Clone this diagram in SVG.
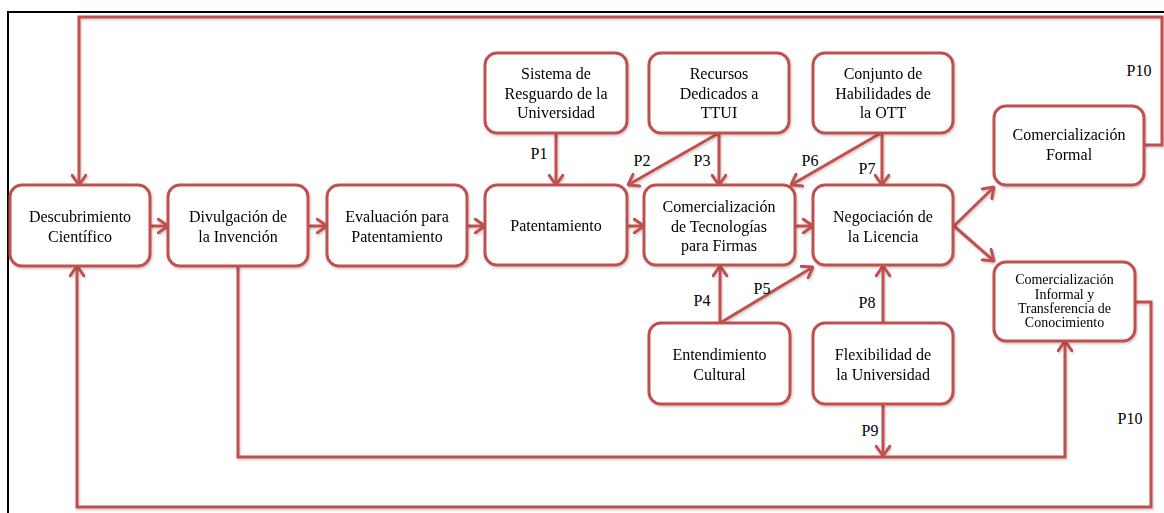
<svg xmlns="http://www.w3.org/2000/svg" width="1164" height="513" viewBox="0 0 1164 513">
  <defs>
    <style>
      .box { fill: #ffffff; stroke: #c0504d; stroke-width: 3; }
      .link { fill: none; stroke: #c0504d; stroke-width: 3; stroke-linejoin: miter; }
      .arr { marker-end: url(#head); }
      text { font-family: "Liberation Serif", "Times New Roman", serif; font-size: 16px; fill: #000000; text-anchor: middle; }
      .small { font-size: 14px; }
    </style>
    <marker id="head" viewBox="0 0 12 16" refX="11" refY="8" markerWidth="12" markerHeight="16" markerUnits="userSpaceOnUse" orient="auto">
      <path d="M1,1 L11,8 L1,15" fill="none" stroke="#c0504d" stroke-width="3" stroke-linecap="round" stroke-linejoin="round"/>
    </marker>
    <filter id="shade" x="-5%" y="-5%" width="110%" height="115%">
      <feDropShadow dx="1" dy="1.5" stdDeviation="1" flood-color="#000" flood-opacity="0.22"/>
    </filter>
  </defs>

  <rect width="1164" height="513" fill="#ffffff"/>
  <!-- outer frame -->
  <path d="M8,513 V12 H1164" fill="none" stroke="#000" stroke-width="2"/>

  <g id="connectors" filter="url(#shade)">
    <!-- main chain -->
    <path class="link arr" d="M150,226 H168"/>
    <path class="link arr" d="M308,226 H327"/>
    <path class="link arr" d="M467,226 H485"/>
    <path class="link arr" d="M627,226 H644"/>
    <path class="link arr" d="M795,226 H813"/>
    <path class="link arr" d="M954,226 L994,187"/>
    <path class="link arr" d="M954,226 L994,261"/>
    <!-- P1..P3, P6, P7 -->
    <path class="link arr" d="M556,133 V185"/>
    <path class="link arr" d="M719,133 L628,185"/>
    <path class="link arr" d="M719,133 V185"/>
    <path class="link arr" d="M881,133 L791,185"/>
    <path class="link arr" d="M882,133 V185"/>
    <!-- P4, P5, P8, P9 -->
    <path class="link arr" d="M720,323 V266"/>
    <path class="link arr" d="M720,323 L813,267"/>
    <path class="link arr" d="M883,323 V266"/>
    <path class="link arr" d="M883,404 V456"/>
    <!-- Divulgación to informal channel -->
    <path class="link arr" d="M238,266 V457 H1065 V341"/>
    <!-- P10 feedback loops -->
    <path class="link arr" d="M1144,145 H1162 V17 H79 V185"/>
    <path class="link arr" d="M1135,302 H1151 V507 H77 V266"/>
  </g>

  <g id="n-descubrimiento" filter="url(#shade)">
    <rect class="box" x="10" y="185" width="140" height="81" rx="12"/>
    <text x="80" y="222">Descubrimiento</text>
    <text x="80" y="242">Científico</text>
  </g>
  <g id="n-divulgacion" filter="url(#shade)">
    <rect class="box" x="168" y="185" width="140" height="81" rx="12"/>
    <text x="238" y="222">Divulgación de</text>
    <text x="238" y="242">la Invención</text>
  </g>
  <g id="n-evaluacion" filter="url(#shade)">
    <rect class="box" x="327" y="185" width="140" height="81" rx="12"/>
    <text x="397" y="222">Evaluación para</text>
    <text x="397" y="242">Patentamiento</text>
  </g>
  <g id="n-patentamiento" filter="url(#shade)">
    <rect class="box" x="485" y="185" width="142" height="80" rx="12"/>
    <text x="556" y="231">Patentamiento</text>
  </g>
  <g id="n-comercializacion" filter="url(#shade)">
    <rect class="box" x="644" y="185" width="151" height="80" rx="12"/>
    <text x="719" y="212">Comercialización</text>
    <text x="719" y="231.5">de Tecnologías</text>
    <text x="719" y="251">para Firmas</text>
  </g>
  <g id="n-negociacion" filter="url(#shade)">
    <rect class="box" x="813" y="185" width="140" height="80" rx="12"/>
    <text x="883" y="222">Negociación de</text>
    <text x="883" y="242">la Licencia</text>
  </g>
  <g id="n-sistema" filter="url(#shade)">
    <rect class="box" x="485" y="53" width="142" height="80" rx="12"/>
    <text x="556" y="79">Sistema de</text>
    <text x="556" y="98.5">Resguardo de la</text>
    <text x="556" y="118">Universidad</text>
  </g>
  <g id="n-recursos" filter="url(#shade)">
    <rect class="box" x="649" y="53" width="140" height="80" rx="12"/>
    <text x="719" y="79">Recursos</text>
    <text x="719" y="98.5">Dedicados a</text>
    <text x="719" y="118">TTUI</text>
  </g>
  <g id="n-conjunto" filter="url(#shade)">
    <rect class="box" x="813" y="53" width="140" height="80" rx="12"/>
    <text x="883" y="79">Conjunto de</text>
    <text x="883" y="98.5">Habilidades de</text>
    <text x="883" y="118">la OTT</text>
  </g>
  <g id="n-formal" filter="url(#shade)">
    <rect class="box" x="994" y="106" width="150" height="79" rx="12"/>
    <text x="1069" y="140">Comercialización</text>
    <text x="1069" y="160">Formal</text>
  </g>
  <g id="n-informal" filter="url(#shade)">
    <rect class="box" x="994" y="262" width="141" height="79" rx="12"/>
    <text class="small" x="1064.5" y="284">Comercialización</text>
    <text class="small" x="1064.5" y="298.5">Informal y</text>
    <text class="small" x="1064.5" y="313">Transferencia de</text>
    <text class="small" x="1064.5" y="327">Conocimiento</text>
  </g>
  <g id="n-entendimiento" filter="url(#shade)">
    <rect class="box" x="649" y="323" width="141" height="81" rx="12"/>
    <text x="719.5" y="360">Entendimiento</text>
    <text x="719.5" y="380">Cultural</text>
  </g>
  <g id="n-flexibilidad" filter="url(#shade)">
    <rect class="box" x="813" y="323" width="140" height="81" rx="12"/>
    <text x="883" y="360">Flexibilidad de</text>
    <text x="883" y="380">la Universidad</text>
  </g>

  <g id="labels">
    <text x="539" y="159">P1</text>
    <text x="642" y="166">P2</text>
    <text x="702" y="166">P3</text>
    <text x="810" y="166">P6</text>
    <text x="867" y="174">P7</text>
    <text x="702" y="306">P4</text>
    <text x="762" y="294">P5</text>
    <text x="867" y="308">P8</text>
    <text x="870" y="436">P9</text>
    <text x="1139" y="76">P10</text>
    <text x="1130" y="424">P10</text>
  </g>
</svg>
